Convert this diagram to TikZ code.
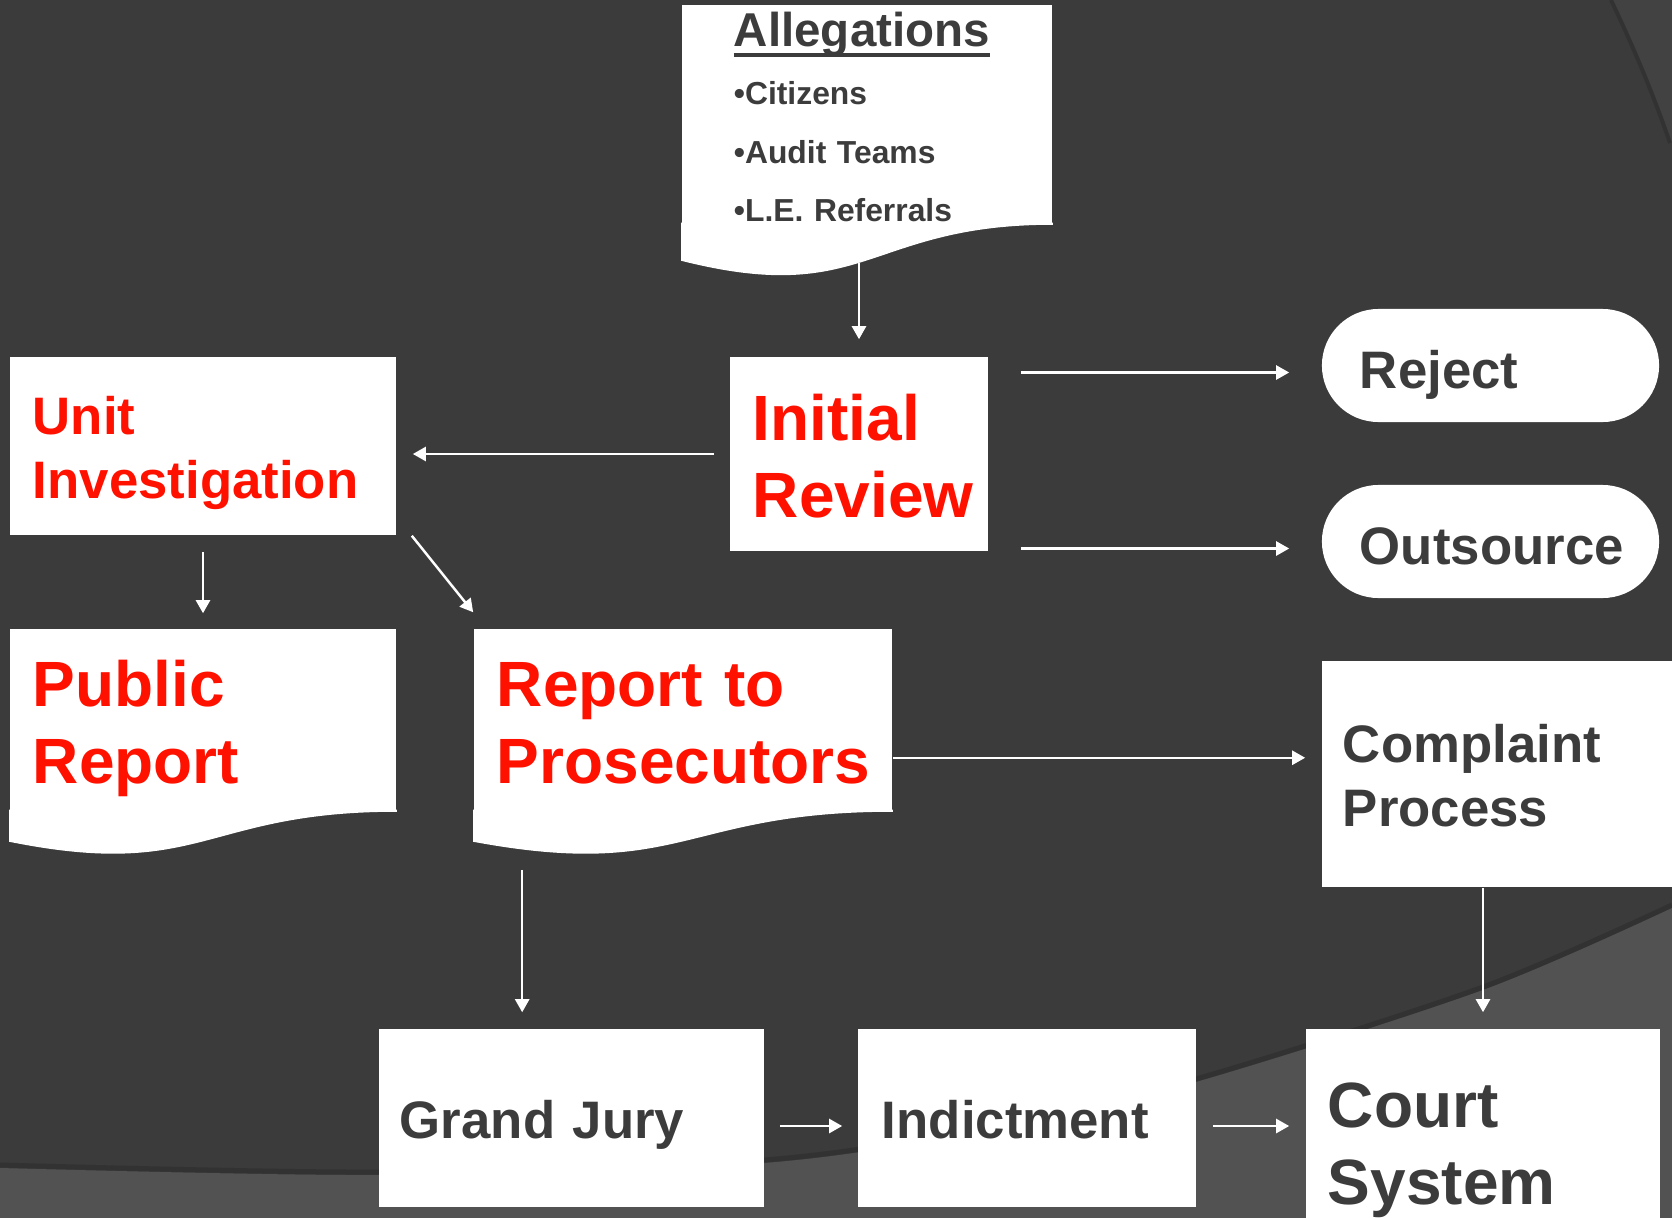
\documentclass[tikz,border=0pt]{standalone}
\usepackage{fontspec}
\setmainfont{Liberation Sans}
\usetikzlibrary{positioning,arrows.meta,calc}

\definecolor{slate}{HTML}{3B3B3B}
\definecolor{slatelight}{HTML}{525252}
\definecolor{slatemid}{HTML}{424242}
\definecolor{inkgrey}{HTML}{3C3C3C}
\definecolor{alarm}{HTML}{FF1100}

% underline that cuts through the descenders
\newcommand\titlerule[1]{\setbox0\hbox{#1}\rlap{\rule[-2.8pt]{\wd0}{1.2pt}}\box0}
% wavy foot under a document box
\newcommand\docfoot[3]{\fill[white] ([yshift=0.6pt]#1.south east) -- (#1.south east) .. controls (#1.south) and ($(#1.south)+(0,#2)$) .. ($(#1.south west)+(0,#3)$) -- ([yshift=0.6pt]#1.south west) -- cycle;}

\tikzset{
    box/.style = {fill=white, inner ysep=0pt, align=left},
    bigfont/.style = {font=\bfseries\fontsize{18.2}{21.85}\selectfont, text height=0.632cm, text depth=0.904cm},
    midfont/.style = {font=\bfseries\fontsize{15}{18}\selectfont, text height=0.521cm, text depth=0.745cm},
    midone/.style = {midfont, text depth=0.112cm},
    pill/.style = {box, midone, text=inkgrey, rounded corners=0.565cm, minimum width=3.37cm, minimum height=1.13cm,
                   inner xsep=0.38cm, text width=2.61cm, text height=0.55cm, text depth=0.083cm},
    arr/.style = {draw=white, line width=0.7pt, -{Triangle[length=0.13cm,width=0.14cm]}},
}

\begin{document}
\begin{tikzpicture}[x=0.01cm, y=-0.01cm]
    \useasboundingbox (0,0) rectangle (1672,1218);
    % backdrop
    \fill[slate] (0,0) rectangle (1672,1218);
    \fill[slatemid] (1613,0) .. controls (1636,48) and (1656,96) .. (1672,143) -- (1672,0) -- cycle;
    \draw[black, opacity=0.15, line width=0.04cm] (1611,0) .. controls (1634,48) and (1654,96) .. (1670,143);
    \fill[slatelight] plot[smooth, tension=0.5] coordinates {(0,1168) (379,1175) (764,1163) (1000,1128) (1196,1082) (1483,990) (1672,908)}
        -- (1672,1218) -- (0,1218) -- cycle;
    \begin{scope}[yshift=0.03cm]
        \draw[black, opacity=0.15, line width=0.05cm] plot[smooth, tension=0.5] coordinates {(0,1168) (379,1175) (764,1163) (1000,1128) (1196,1082) (1483,990) (1672,908)};
    \end{scope}

    % boxes
    \node[box, text=inkgrey, minimum width=3.70cm, minimum height=2.19cm, inner xsep=0.52cm, text width=2.66cm,
          font=\bfseries\fontsize{9.05}{16.5}\selectfont, text height=0.42cm, text depth=1.77cm] (alg) at (867,114.5)
        {{\fontsize{13.5}{16.5}\selectfont\titlerule{Allegations}}\\\textbullet Citizens\\\textbullet Audit Teams\\\textbullet L.E. Referrals};
    \docfoot{alg}{83}{36}

    \node[box, bigfont, text=alarm, minimum width=2.58cm, minimum height=1.94cm, inner xsep=0.23cm, text width=2.12cm] (ir) at (859,454) {Initial\\Review};
    \node[box, midfont, text=alarm, minimum width=3.86cm, minimum height=1.78cm, inner xsep=0.23cm, text width=3.40cm] (ui) at (203,446) {Unit\\Investigation};
    \node[pill] (rej) at (1490.5,365.5) {Reject};
    \node[pill] (out) at (1490.5,541.5) {Outsource};

    \node[box, bigfont, text=alarm, minimum width=3.86cm, minimum height=1.82cm, inner xsep=0.23cm, text width=3.40cm] (pub) at (203,720) {Public\\Report};
    \docfoot{pub}{69}{30}
    \node[box, bigfont, text=alarm, minimum width=4.18cm, minimum height=1.82cm, inner xsep=0.23cm, text width=3.72cm] (pros) at (683,720) {Report to\\Prosecutors};
    \docfoot{pros}{69}{30}
    \node[box, midfont, text=inkgrey, minimum width=3.68cm, minimum height=2.26cm, inner xsep=0.21cm, text width=3.26cm] (cp) at (1506,774) {Complaint\\Process};

    \node[box, midone, text=inkgrey, minimum width=3.85cm, minimum height=1.78cm, inner xsep=0.21cm, text width=3.43cm] (gj) at (571.5,1118) {Grand Jury};
    \node[box, midone, text=inkgrey, minimum width=3.38cm, minimum height=1.78cm, inner xsep=0.24cm, text width=2.90cm] (ind) at (1027,1118) {Indictment};
    \node[box, bigfont, text=inkgrey, minimum width=3.54cm, minimum height=2.25cm, inner xsep=0.22cm, text width=3.10cm] (court) at (1483,1141.5) {Court\\System};

    % connectors
    \coordinate (prosout) at ($(pros.south east)+(0,-54)$);
    \coordinate (prosdown) at ($(pros.south west)+(49,58)$);
    \draw[arr, shorten <=0.38cm, shorten >=0.17cm] (alg.south -| ir.north) -- (ir.north);
    \draw[arr, shorten <=0.15cm, shorten >=0.16cm] (ir.west) -- (ir.west -| ui.east);
    \draw[arr, shorten <=0.32cm, shorten >=0.32cm] ($(ir.east |- rej.west)+(0,7)$) -- ($(rej.west)+(0,7)$);
    \draw[arr, shorten <=0.32cm, shorten >=0.32cm] ($(ir.east |- out.west)+(0,7)$) -- ($(out.west)+(0,7)$);
    \draw[arr, shorten <=0.16cm, shorten >=0.15cm] (ui) -- (pub);
    \draw[arr] ($(ui.south east)+(15,0)$) -- ($(pros.north west)+(0,-16)$);
    \draw[arr, shorten >=0.16cm] (prosout) -- (prosout -| cp.west);
    \draw[arr, shorten >=0.16cm] (prosdown) -- (prosdown |- gj.north);
    \draw[arr, shorten >=0.16cm] (court.north |- cp.south) -- (court.north);
    \draw[arr, shorten <=0.15cm, shorten >=0.15cm] ($(gj.east)+(0,8)$) -- ($(ind.west)+(0,8)$);
    \draw[arr, shorten <=0.16cm, shorten >=0.16cm] ($(ind.east)+(0,8)$) -- ($(ind.east -| court.west)+(0,8)$);
\end{tikzpicture}
\end{document}
